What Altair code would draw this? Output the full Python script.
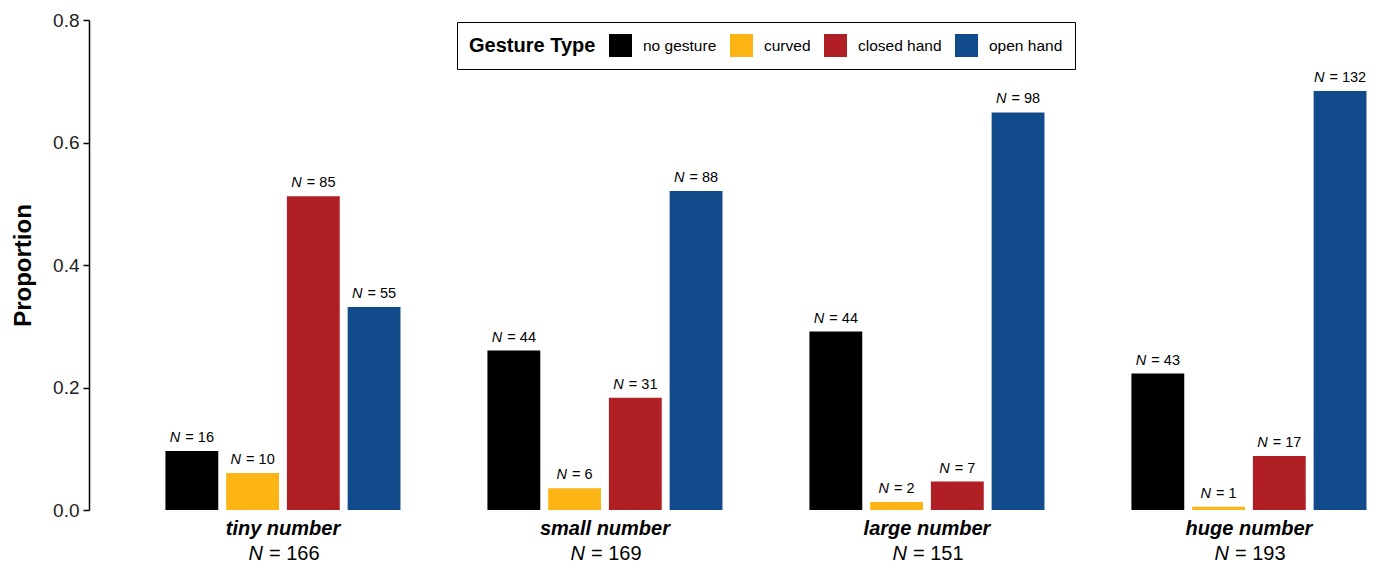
import altair as alt
import pandas as pd

categories = ["tiny number", "small number", "large number", "huge number"]
gestures = ["no gesture", "curved", "closed hand", "open hand"]
colors = ["#000000", "#FDB515", "#B01F24", "#114B8B"]

no_gesture = [16, 44, 44, 43]
curved = [10, 6, 2, 1]
closed_hand = [85, 31, 7, 17]
open_hand = [55, 88, 98, 132]

counts = {"no gesture": no_gesture, "curved": curved,
          "closed hand": closed_hand, "open hand": open_hand}

rows = []
totals = []
for i, c in enumerate(categories):
    tot = sum(counts[g][i] for g in gestures)
    totals.append(tot)
    for g in gestures:
        n = counts[g][i]
        rows.append({"category": c, "gesture": g, "n": n, "prop": n / tot,
                     "eqlabel": f"= {n}", "digits": len(str(n))})
df = pd.DataFrame(rows)
tot_df = pd.DataFrame({"category": categories, "eqlabel": [f"= {t}" for t in totals]})

FONT = "Liberation Sans"

xscale = alt.Scale(domain=categories, paddingInner=0.27, paddingOuter=0.1226, align=0.968)
x = alt.X("category:N", scale=xscale, sort=categories,
          axis=alt.Axis(title=None, domain=False, ticks=False, grid=False, labelAngle=0,
                        labelFontStyle="italic", labelFontWeight="bold",
                        labelFontSize=20, labelPadding=8, labelColor="black",
                        labelFont=FONT))
xo = alt.XOffset("gesture:N", scale=alt.Scale(domain=gestures, paddingInner=0.13, paddingOuter=0))
y = alt.Y("prop:Q", scale=alt.Scale(domain=[0, 0.8], nice=False),
          axis=alt.Axis(title="Proportion", values=[0, 0.2, 0.4, 0.6, 0.8], format=".1f",
                        grid=False, domainColor="black", domainWidth=1.5,
                        tickColor="black", tickWidth=1.5, tickSize=6,
                        labelFontSize=19, labelColor="#222222", labelPadding=4,
                        titleFontSize=24, titleFontWeight="bold", titleColor="black",
                        titlePadding=17, labelFont=FONT, titleFont=FONT))

base = alt.Chart(df)

bars = base.mark_bar().encode(
    x=x, xOffset=xo, y=y,
    color=alt.Color("gesture:N", scale=alt.Scale(domain=gestures, range=colors),
                    legend=alt.Legend(orient="none", legendX=368, legendY=2,
                                      direction="horizontal", titleOrient="left",
                                      title="Gesture Type", titleFontSize=20,
                                      titleFontWeight="bold", titleColor="black",
                                      titleFont=FONT, labelFont=FONT,
                                      labelFontSize=15.5, labelColor="black",
                                      symbolType="square", symbolSize=529,
                                      symbolStrokeWidth=0, symbolOpacity=1,
                                      strokeColor="black", fillColor="white",
                                      padding=12, columnPadding=13, labelOffset=11,
                                      titlePadding=13, titleBaseline="middle")),
)

offsets = {1: (-7.5, -2.5), 2: (-11.5, -6.5), 3: (-15.6, -10.6)}
label_layers = []
for d, (n_dx, eq_dx) in offsets.items():
    sub = base.transform_filter(alt.datum.digits == d)
    label_layers.append(sub.mark_text(text="N", fontStyle="italic", align="right",
                                      baseline="bottom", dx=n_dx, dy=-6,
                                      fontSize=14.5, font=FONT, color="black").encode(
        x=x, xOffset=xo, y=y))
    label_layers.append(sub.mark_text(align="left", baseline="bottom", dx=eq_dx, dy=-6,
                                      fontSize=14.5, font=FONT, color="black").encode(
        x=x, xOffset=xo, y=y, text="eqlabel:N"))

tot_base = alt.Chart(tot_df)
tot_n = tot_base.mark_text(text="N", fontStyle="italic", align="right", baseline="alphabetic",
                           dx=-20, fontSize=20, font=FONT, color="black").encode(
    x=x, y=alt.value(540))
tot_eq = tot_base.mark_text(align="left", baseline="alphabetic", dx=-14, fontSize=20,
                            font=FONT, color="black").encode(
    x=x, y=alt.value(540), text="eqlabel:N")

chart = alt.layer(bars, *label_layers, tot_n, tot_eq).properties(
    width=1280, height=490,
    autosize=alt.AutoSizeParams(type="none"),
    padding={"left": 81, "top": 12, "right": 4, "bottom": 56},
).configure(font=FONT, background="white").configure_view(
    stroke=None, strokeWidth=0
).configure_axisX(domain=False, ticks=False, grid=False)

chart.save("out.html", embed_options={"renderer": "svg", "actions": False})
